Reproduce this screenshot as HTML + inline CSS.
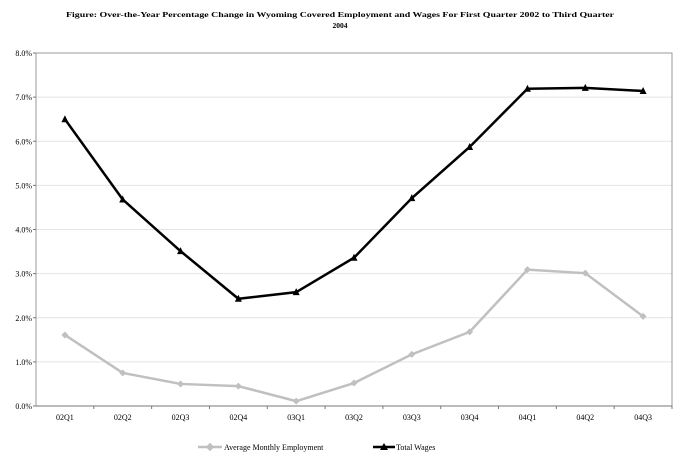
<!DOCTYPE html>
<html><head><meta charset="utf-8"><style>
body{margin:0;background:#fff;width:676px;height:461px;overflow:hidden}
svg{font-family:"Liberation Serif",serif}
</style></head><body>
<svg width="676" height="461">
<text x="66" y="17" textLength="548" lengthAdjust="spacingAndGlyphs" font-size="7.5" font-weight="bold">Figure: Over-the-Year Percentage Change in Wyoming Covered Employment and Wages For First Quarter 2002 to Third Quarter</text>
<text x="340" y="28" text-anchor="middle" font-size="7.5" font-weight="bold">2004</text>
<g id="grid"></g>
<rect x="36" y="53" width="636" height="353" fill="none" stroke="#999" stroke-width="1"/>
<g id="axes"></g>
<g id="series"></g>
<g>
<g>
<line x1="198" y1="447" x2="222" y2="447" stroke="#c0c0c0" stroke-width="2.5"/>
<rect x="207" y="444" width="6" height="6" fill="#c0c0c0" transform="rotate(45 210 447)"/>
<text x="224" y="450" font-size="8">Average Monthly Employment</text>
</g>
<g>
<line x1="373" y1="447" x2="395" y2="447" stroke="#000" stroke-width="2.5"/>
<polygon points="384,443 388,450 380,450" fill="#000"/>
<text x="396" y="450" font-size="8">Total Wages</text>
</g>
</g>
</svg>
<script>
const categories=["02Q1","02Q2","02Q3","02Q4","03Q1","03Q2","03Q3","03Q4","04Q1","04Q2","04Q3"];
const employment=[1.61,0.75,0.50,0.45,0.11,0.52,1.17,1.68,3.09,3.01,2.03];
const wages=[6.50,4.68,3.51,2.43,2.58,3.36,4.71,5.87,7.19,7.21,7.14];
const yTicks=[0,1,2,3,4,5,6,7,8];
const NS="http://www.w3.org/2000/svg";
const L=36,R=672,T=53,B=406,yMax=8;
const step=(R-L)/categories.length;
const xS=i=>L+step*(i+0.5);
const yS=v=>B-(v/yMax)*(B-T);
function mk(tag,attrs,parent){const e=document.createElementNS(NS,tag);for(const k in attrs)e.setAttribute(k,attrs[k]);parent.appendChild(e);return e;}
const grid=document.getElementById('grid'),axes=document.getElementById('axes'),series=document.getElementById('series');
yTicks.forEach(t=>{
  const y=yS(t);
  if(t>0&&t<yMax){const g=mk('line',{x1:L,x2:R,y1:y,y2:y,stroke:'#e4e4e4','stroke-width':1},grid);
  
  }
  const tx=mk('text',{x:L-4,y:y+3,'text-anchor':'end','font-size':8},axes);
  tx.textContent=t.toFixed(1)+'%';
  
  
  mk('line',{x1:L-3,x2:L,y1:y,y2:y,stroke:'#777'},axes);
});
mk('line',{x1:L,x2:R,y1:B,y2:B,stroke:'#777','stroke-width':1},axes);
categories.forEach((c,i)=>{
  const x=L+step*(i+1);
  mk('line',{x1:x,x2:x,y1:B,y2:B+3,stroke:'#777'},axes);
  const tx=mk('text',{x:xS(i),y:B+14,'text-anchor':'middle','font-size':8},axes);
  tx.textContent=c;
  
  
});
function line(vals,color,name){
  const p=mk('polyline',{points:vals.map((v,i)=>xS(i)+','+yS(v)).join(' '),fill:'none',stroke:color,'stroke-width':2.5},series);
  
  
}
line(employment,'#c0c0c0','employment');
line(wages,'#000','total-wages');
employment.forEach((v,i)=>{
  const x=xS(i),y=yS(v);
  const m=mk('polygon',{points:`${x},${y-3.5} ${x+3.5},${y} ${x},${y+3.5} ${x-3.5},${y}`,fill:'#c0c0c0'},series);
  
  
});
wages.forEach((v,i)=>{
  const x=xS(i),y=yS(v);
  const m=mk('polygon',{points:`${x},${y-4} ${x+3.5},${y+3} ${x-3.5},${y+3}`,fill:'#000'},series);
  
  
});
</script>
</body></html>
